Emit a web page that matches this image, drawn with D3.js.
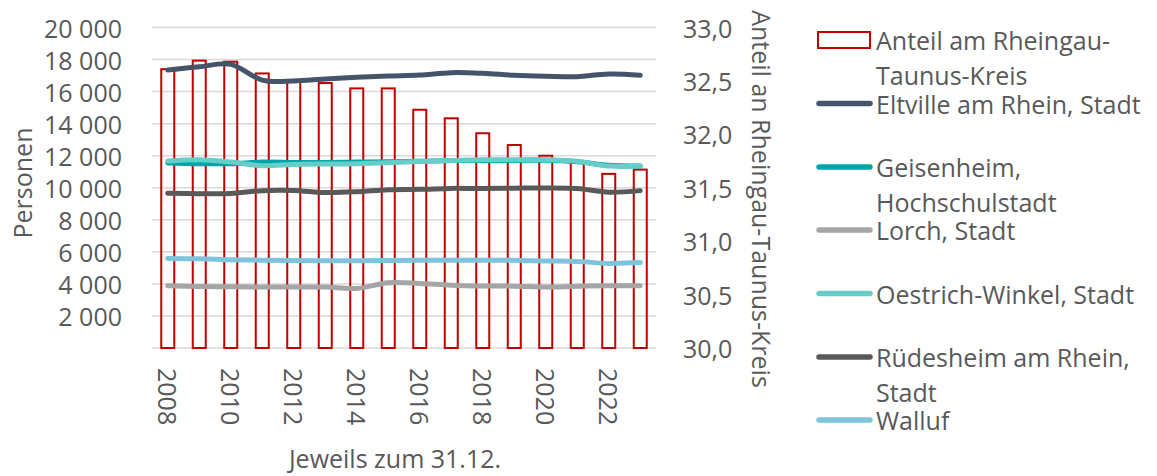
<!DOCTYPE html>
<html>
<head>
<meta charset="utf-8">
<script src="https://cdn.jsdelivr.net/npm/d3@7"></script>
<style>
  body { margin: 0; background: #fff; }
  svg { display: block; }
  text { font-family: "Open Sans", sans-serif; fill: #595959; }
</style>
</head>
<body>
<svg id="chart"></svg>
<script>
// data
const years = [2008, 2009, 2010, 2011, 2012, 2013, 2014, 2015, 2016, 2017, 2018, 2019, 2020, 2021, 2022, 2023];
const anteil = [32.61, 32.69, 32.68, 32.57, 32.49, 32.48, 32.43, 32.43, 32.23, 32.15, 32.01, 31.90, 31.80, 31.74, 31.63, 31.67];

const eltville = [17350, 17550, 17700, 16720, 16660, 16790, 16890, 16970, 17030, 17180, 17140, 17020, 16960, 16930, 17100, 17020];
const geisenheim = [11550, 11500, 11500, 11600, 11580, 11580, 11600, 11620, 11650, 11700, 11700, 11700, 11720, 11620, 11400, 11350];
const lorch = [3890, 3840, 3820, 3810, 3810, 3800, 3720, 4070, 4030, 3920, 3870, 3860, 3800, 3850, 3880, 3880];
const oestrich = [11670, 11750, 11600, 11380, 11450, 11480, 11500, 11560, 11640, 11700, 11750, 11750, 11750, 11650, 11350, 11350];
const ruedesheim = [9650, 9630, 9640, 9820, 9830, 9700, 9750, 9880, 9900, 9960, 9950, 9970, 9990, 9950, 9720, 9820];
const walluf = [5590, 5570, 5510, 5480, 5460, 5450, 5450, 5460, 5470, 5480, 5480, 5470, 5430, 5400, 5280, 5330];

const leftTicks = [2000, 4000, 6000, 8000, 10000, 12000, 14000, 16000, 18000, 20000];
const rightTicks = [30, 30.5, 31, 31.5, 32, 32.5, 33];
const yearLabels = [2008, 2010, 2012, 2014, 2016, 2018, 2020, 2022];

const series = [
  { name: "Eltville am Rhein, Stadt", values: eltville, color: "#44546A" },
  { name: "Geisenheim, Hochschulstadt", values: geisenheim, color: "#00A6A6" },
  { name: "Lorch, Stadt", values: lorch, color: "#A5A5A5" },
  { name: "Oestrich-Winkel, Stadt", values: oestrich, color: "#66CDC8" },
  { name: "Rüdesheim am Rhein, Stadt", values: ruedesheim, color: "#595959" },
  { name: "Walluf", values: walluf, color: "#7FC3DD" }
];

const legendItems = [
  { lines: ["Anteil am Rheingau-", "Taunus-Kreis"], type: "bar" },
  { lines: ["Eltville am Rhein, Stadt"], color: "#44546A" },
  { lines: ["Geisenheim,", "Hochschulstadt"], color: "#00A6A6" },
  { lines: ["Lorch, Stadt"], color: "#A5A5A5" },
  { lines: ["Oestrich-Winkel, Stadt"], color: "#66CDC8" },
  { lines: ["Rüdesheim am Rhein,", "Stadt"], color: "#595959" },
  { lines: ["Walluf"], color: "#7FC3DD" }
];

const W = 1157, H = 476;
const plot = { left: 152, right: 656, top: 27.5, bottom: 348 };
const fontSize = 25;

const svg = d3.select("#chart").attr("width", W).attr("height", H);

const x = d3.scaleBand().domain(years).range([plot.left, plot.right]);
const yL = d3.scaleLinear().domain([0, 20000]).range([plot.bottom, plot.top]);
const yR = d3.scaleLinear().domain([30, 33]).range([plot.bottom, plot.top]);

// gridlines
svg.append("g")
  .selectAll("line")
  .data([0].concat(leftTicks))
  .join("line")
    .attr("x1", plot.left).attr("x2", plot.right)
    .attr("y1", d => yL(d)).attr("y2", d => yL(d))
    .attr("stroke", "#D9D9D9")
    .attr("stroke-width", 1.5);

// left tick labels
const fmt = d => d3.format(",")(d).replace(/,/g, " ");
svg.append("g")
  .selectAll("text")
  .data(leftTicks)
  .join("text")
    .attr("x", 122)
    .attr("y", d => yL(d))
    .attr("text-anchor", "end")
    .attr("dominant-baseline", "central")
    .style("font-size", fontSize + "px")
    .text(fmt);

// right tick labels
svg.append("g")
  .selectAll("text")
  .data(rightTicks)
  .join("text")
    .attr("x", 683)
    .attr("y", d => yR(d))
    .attr("text-anchor", "start")
    .attr("dominant-baseline", "central")
    .style("font-size", fontSize + "px")
    .text(d => d3.format(".1f")(d).replace(".", ","));

// bars (right axis)
const bw = 13;
svg.append("g")
  .selectAll("rect")
  .data(years)
  .join("rect")
    .attr("x", d => x(d) + x.bandwidth() / 2 - bw / 2)
    .attr("y", (d, i) => yR(anteil[i]))
    .attr("width", bw)
    .attr("height", (d, i) => plot.bottom - yR(anteil[i]))
    .attr("fill", "none")
    .attr("stroke", "#C00000")
    .attr("stroke-width", 2);

// lines (left axis)
const line = d3.line()
  .x((d, i) => x(years[i]) + x.bandwidth() / 2)
  .y(d => yL(d))
  .curve(d3.curveCatmullRom.alpha(0.5));

svg.append("g")
  .selectAll("path")
  .data(series)
  .join("path")
    .attr("d", d => line(d.values))
    .attr("fill", "none")
    .attr("stroke", d => d.color)
    .attr("stroke-width", 5)
    .attr("stroke-linecap", "round")
    .attr("stroke-linejoin", "round");

// x labels, rotated
svg.append("g")
  .selectAll("text")
  .data(yearLabels)
  .join("text")
    .attr("transform", d => `translate(${x(d) + x.bandwidth() / 2},368) rotate(90)`)
    .attr("text-anchor", "start")
    .attr("dominant-baseline", "central")
    .style("font-size", fontSize + "px")
    .text(d => d);

// axis titles
svg.append("text")
  .attr("transform", "translate(22,183) rotate(-90)")
  .attr("text-anchor", "middle")
  .attr("dominant-baseline", "central")
  .style("font-size", fontSize + "px")
  .text("Personen");

svg.append("text")
  .attr("transform", "translate(762,199) rotate(90)")
  .attr("text-anchor", "middle")
  .attr("dominant-baseline", "central")
  .style("font-size", fontSize + "px")
  .text("Anteil an Rheingau-Taunus-Kreis");

svg.append("text")
  .attr("x", 395)
  .attr("y", 458)
  .attr("text-anchor", "middle")
  .attr("dominant-baseline", "central")
  .style("font-size", fontSize + "px")
  .text("Jeweils zum 31.12.");

// legend
const legendY = [40, 103.5, 167, 230, 293.5, 357, 420];
const leg = svg.append("g").selectAll("g")
  .data(legendItems)
  .join("g")
    .attr("transform", (d, i) => `translate(0,${legendY[i]})`);

leg.filter(d => d.type === "bar")
  .append("rect")
    .attr("x", 818).attr("y", -8)
    .attr("width", 52).attr("height", 16)
    .attr("fill", "none")
    .attr("stroke", "#C00000")
    .attr("stroke-width", 2);

leg.filter(d => d.type !== "bar")
  .append("line")
    .attr("x1", 819).attr("x2", 870)
    .attr("y1", 0).attr("y2", 0)
    .attr("stroke", d => d.color)
    .attr("stroke-width", 5.5)
    .attr("stroke-linecap", "round");

leg.each(function(d) {
  d3.select(this).selectAll("text")
    .data(d.lines)
    .join("text")
      .attr("x", 876)
      .attr("y", (t, j) => j * 35)
      .attr("dominant-baseline", "central")
      .style("font-size", fontSize + "px")
      .text(t => t);
});
</script>
</body>
</html>
